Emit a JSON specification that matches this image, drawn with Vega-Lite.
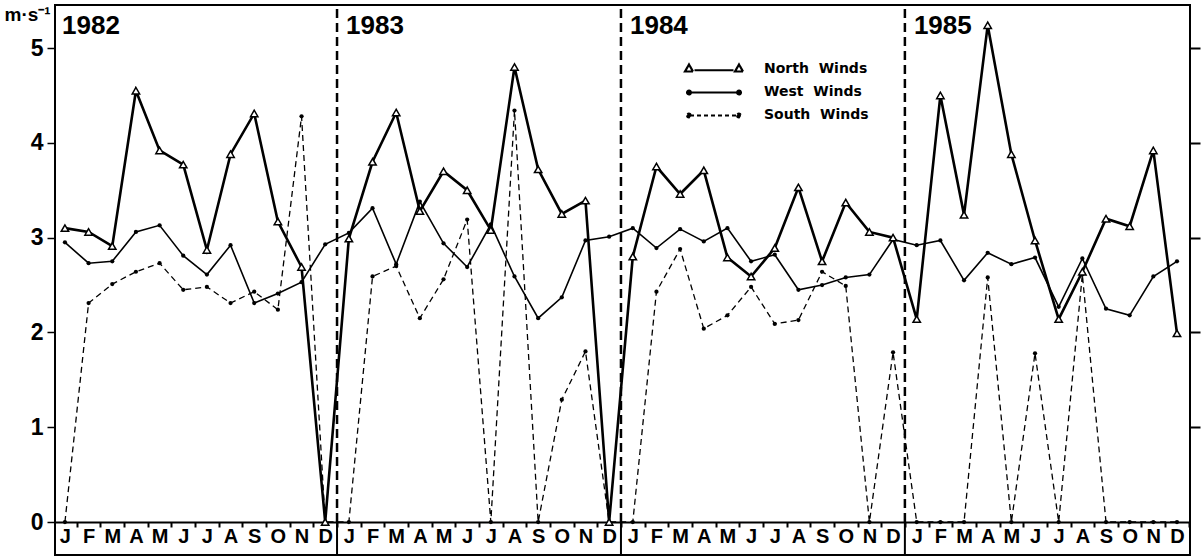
{
  "$schema": "https://vega.github.io/schema/vega-lite/v6.json",
  "width": 1135,
  "height": 550,
  "autosize": {"type": "none"},
  "padding": {"left": 55, "top": 5, "right": 11, "bottom": 4},
  "background": "white",
  "config": {"view": {"stroke": "black", "strokeWidth": 2}, "font": "Liberation Sans"},
  "datasets": {
    "years": [
      {"year": "1982", "b": -0.5},
      {"year": "1983", "b": 11.5},
      {"year": "1984", "b": 23.5},
      {"year": "1985", "b": 35.5}
    ],
    "winds": [
      {"s":"North Winds","i":0,"v":3.10},{"s":"North Winds","i":1,"v":3.06},{"s":"North Winds","i":2,"v":2.91},{"s":"North Winds","i":3,"v":4.55},
      {"s":"North Winds","i":4,"v":3.92},{"s":"North Winds","i":5,"v":3.77},{"s":"North Winds","i":6,"v":2.87},{"s":"North Winds","i":7,"v":3.88},
      {"s":"North Winds","i":8,"v":4.31},{"s":"North Winds","i":9,"v":3.17},{"s":"North Winds","i":10,"v":2.69},{"s":"North Winds","i":11,"v":0},
      {"s":"North Winds","i":12,"v":2.99},{"s":"North Winds","i":13,"v":3.80},{"s":"North Winds","i":14,"v":4.32},{"s":"North Winds","i":15,"v":3.28},
      {"s":"North Winds","i":16,"v":3.70},{"s":"North Winds","i":17,"v":3.50},{"s":"North Winds","i":18,"v":3.08},{"s":"North Winds","i":19,"v":4.80},
      {"s":"North Winds","i":20,"v":3.72},{"s":"North Winds","i":21,"v":3.25},{"s":"North Winds","i":22,"v":3.39},{"s":"North Winds","i":23,"v":0},
      {"s":"North Winds","i":24,"v":2.80},{"s":"North Winds","i":25,"v":3.75},{"s":"North Winds","i":26,"v":3.46},{"s":"North Winds","i":27,"v":3.71},
      {"s":"North Winds","i":28,"v":2.79},{"s":"North Winds","i":29,"v":2.59},{"s":"North Winds","i":30,"v":2.89},{"s":"North Winds","i":31,"v":3.53},
      {"s":"North Winds","i":32,"v":2.75},{"s":"North Winds","i":33,"v":3.37},{"s":"North Winds","i":34,"v":3.06},{"s":"North Winds","i":35,"v":3.00},
      {"s":"North Winds","i":36,"v":2.14},{"s":"North Winds","i":37,"v":4.50},{"s":"North Winds","i":38,"v":3.24},{"s":"North Winds","i":39,"v":5.24},
      {"s":"North Winds","i":40,"v":3.88},{"s":"North Winds","i":41,"v":2.97},{"s":"North Winds","i":42,"v":2.14},{"s":"North Winds","i":43,"v":2.64},
      {"s":"North Winds","i":44,"v":3.20},{"s":"North Winds","i":45,"v":3.12},{"s":"North Winds","i":46,"v":3.92},{"s":"North Winds","i":47,"v":1.99},

      {"s":"West Winds","i":0,"v":2.95},{"s":"West Winds","i":1,"v":2.73},{"s":"West Winds","i":2,"v":2.75},{"s":"West Winds","i":3,"v":3.06},
      {"s":"West Winds","i":4,"v":3.13},{"s":"West Winds","i":5,"v":2.81},{"s":"West Winds","i":6,"v":2.61},{"s":"West Winds","i":7,"v":2.92},
      {"s":"West Winds","i":8,"v":2.31},{"s":"West Winds","i":9,"v":2.41},{"s":"West Winds","i":10,"v":2.53},{"s":"West Winds","i":11,"v":2.93},
      {"s":"West Winds","i":12,"v":3.05},{"s":"West Winds","i":13,"v":3.31},{"s":"West Winds","i":14,"v":2.72},{"s":"West Winds","i":15,"v":3.38},
      {"s":"West Winds","i":16,"v":2.94},{"s":"West Winds","i":17,"v":2.69},{"s":"West Winds","i":18,"v":3.14},{"s":"West Winds","i":19,"v":2.59},
      {"s":"West Winds","i":20,"v":2.15},{"s":"West Winds","i":21,"v":2.37},{"s":"West Winds","i":22,"v":2.97},{"s":"West Winds","i":23,"v":3.01},
      {"s":"West Winds","i":24,"v":3.10},{"s":"West Winds","i":25,"v":2.89},{"s":"West Winds","i":26,"v":3.09},{"s":"West Winds","i":27,"v":2.96},
      {"s":"West Winds","i":28,"v":3.10},{"s":"West Winds","i":29,"v":2.75},{"s":"West Winds","i":30,"v":2.82},{"s":"West Winds","i":31,"v":2.45},
      {"s":"West Winds","i":32,"v":2.50},{"s":"West Winds","i":33,"v":2.58},{"s":"West Winds","i":34,"v":2.61},{"s":"West Winds","i":35,"v":2.98},
      {"s":"West Winds","i":36,"v":2.92},{"s":"West Winds","i":37,"v":2.97},{"s":"West Winds","i":38,"v":2.55},{"s":"West Winds","i":39,"v":2.84},
      {"s":"West Winds","i":40,"v":2.72},{"s":"West Winds","i":41,"v":2.79},{"s":"West Winds","i":42,"v":2.27},{"s":"West Winds","i":43,"v":2.78},
      {"s":"West Winds","i":44,"v":2.25},{"s":"West Winds","i":45,"v":2.18},{"s":"West Winds","i":46,"v":2.59},{"s":"West Winds","i":47,"v":2.75},

      {"s":"South Winds","i":0,"v":0},{"s":"South Winds","i":1,"v":2.31},{"s":"South Winds","i":2,"v":2.51},{"s":"South Winds","i":3,"v":2.64},
      {"s":"South Winds","i":4,"v":2.73},{"s":"South Winds","i":5,"v":2.45},{"s":"South Winds","i":6,"v":2.48},{"s":"South Winds","i":7,"v":2.31},
      {"s":"South Winds","i":8,"v":2.43},{"s":"South Winds","i":9,"v":2.24},{"s":"South Winds","i":10,"v":4.28},{"s":"South Winds","i":11,"v":0},
      {"s":"South Winds","i":12,"v":0},{"s":"South Winds","i":13,"v":2.59},{"s":"South Winds","i":14,"v":2.70},{"s":"South Winds","i":15,"v":2.15},
      {"s":"South Winds","i":16,"v":2.56},{"s":"South Winds","i":17,"v":3.19},{"s":"South Winds","i":18,"v":0},{"s":"South Winds","i":19,"v":4.34},
      {"s":"South Winds","i":20,"v":0},{"s":"South Winds","i":21,"v":1.29},{"s":"South Winds","i":22,"v":1.80},{"s":"South Winds","i":23,"v":0},
      {"s":"South Winds","i":24,"v":0},{"s":"South Winds","i":25,"v":2.43},{"s":"South Winds","i":26,"v":2.88},{"s":"South Winds","i":27,"v":2.04},
      {"s":"South Winds","i":28,"v":2.18},{"s":"South Winds","i":29,"v":2.48},{"s":"South Winds","i":30,"v":2.09},{"s":"South Winds","i":31,"v":2.13},
      {"s":"South Winds","i":32,"v":2.64},{"s":"South Winds","i":33,"v":2.49},{"s":"South Winds","i":34,"v":0},{"s":"South Winds","i":35,"v":1.79},
      {"s":"South Winds","i":36,"v":0},{"s":"South Winds","i":37,"v":0},{"s":"South Winds","i":38,"v":0},{"s":"South Winds","i":39,"v":2.58},
      {"s":"South Winds","i":40,"v":0},{"s":"South Winds","i":41,"v":1.78},{"s":"South Winds","i":42,"v":0},{"s":"South Winds","i":43,"v":2.61},
      {"s":"South Winds","i":44,"v":0},{"s":"South Winds","i":45,"v":0},{"s":"South Winds","i":46,"v":0},{"s":"South Winds","i":47,"v":0}
    ]
  },
  "resolve": {"axis": {"y": "independent", "x": "independent"}},
  "layer": [
    {
      "data": {"name": "years"},
      "transform": [{"filter": "datum.year != '1982'"}],
      "mark": {"type": "rule", "color": "black", "strokeWidth": 2.5, "strokeDash": [9, 5]},
      "encoding": {
        "x": {"field": "b", "type": "quantitative", "scale": {"domain": [-0.42, 47.55], "nice": false, "zero": false}, "axis": null},
        "y": {"datum": 0, "type": "quantitative", "scale": {"domain": [-0.348, 5.454], "nice": false, "zero": false}, "axis": null},
        "y2": {"datum": 5.45}
      }
    },
    {
      "data": {"name": "years"},
      "transform": [{"filter": "datum.year != '1982'"}],
      "mark": {"type": "rule", "color": "black", "strokeWidth": 2},
      "encoding": {
        "x": {"field": "b", "type": "quantitative", "scale": {"domain": [-0.42, 47.55], "nice": false, "zero": false}, "axis": null},
        "y": {"datum": 0, "type": "quantitative", "scale": {"domain": [-0.348, 5.454], "nice": false, "zero": false}, "axis": null},
        "y2": {"datum": -0.348}
      }
    },
    {
      "data": {"name": "winds"},
      "transform": [{"filter": "datum.s == 'South Winds'"}],
      "mark": {"type": "line", "color": "black", "strokeWidth": 1.3, "strokeDash": [6, 4]},
      "encoding": {
        "x": {
          "field": "i", "type": "quantitative",
          "scale": {"domain": [-0.42, 47.55], "nice": false, "zero": false},
          "axis": {
            "values": [0,1,2,3,4,5,6,7,8,9,10,11,12,13,14,15,16,17,18,19,20,21,22,23,24,25,26,27,28,29,30,31,32,33,34,35,36,37,38,39,40,41,42,43,44,45,46,47],
            "labelExpr": "['J','F','M','A','M','J','J','A','S','O','N','D'][datum.value % 12]",
            "title": null, "grid": false, "offset": -33, "zindex": 0,
            "domain": true, "domainColor": "black", "domainWidth": 2,
            "ticks": true, "tickColor": "black", "tickWidth": 2, "tickSize": 5, "tickOffset": 11.83, "labelOffset": -11.83,
            "labelFont": "Liberation Sans", "labelFontWeight": "bold", "labelFontSize": 20, "labelColor": "black",
            "labelAngle": 0, "labelBaseline": "middle", "labelPadding": 9, "labelFlush": false, "labelOverlap": false
          }
        },
        "y": {
          "field": "v", "type": "quantitative",
          "scale": {"domain": [-0.348, 5.454], "nice": false, "zero": false},
          "axis": {
            "orient": "left", "values": [0,1,2,3,4,5], "format": "d", "grid": false, "domain": false,
            "tickColor": "black", "tickWidth": 1.5, "tickSize": 8,
            "labelFont": "Liberation Sans", "labelFontWeight": "bold", "labelFontSize": 23, "labelColor": "black", "labelPadding": 4,
            "title": "m·s⁻¹", "titleAngle": 0, "titleX": -51, "titleY": 9, "titleAlign": "left", "titleBaseline": "middle",
            "titleFont": "Liberation Sans", "titleFontWeight": "bold", "titleFontSize": 19, "titleColor": "black"
          }
        }
      }
    },
    {
      "data": {"name": "winds"},
      "transform": [{"filter": "datum.s == 'West Winds'"}],
      "mark": {"type": "line", "color": "black", "strokeWidth": 1.6},
      "encoding": {
        "x": {"field": "i", "type": "quantitative", "scale": {"domain": [-0.42, 47.55], "nice": false, "zero": false}, "axis": null},
        "y": {"field": "v", "type": "quantitative", "scale": {"domain": [-0.348, 5.454], "nice": false, "zero": false}, "axis": null}
      }
    },
    {
      "data": {"name": "winds"},
      "transform": [{"filter": "datum.s == 'North Winds'"}],
      "mark": {"type": "line", "color": "black", "strokeWidth": 2.6},
      "encoding": {
        "x": {"field": "i", "type": "quantitative", "scale": {"domain": [-0.42, 47.55], "nice": false, "zero": false}, "axis": null},
        "y": {"field": "v", "type": "quantitative", "scale": {"domain": [-0.348, 5.454], "nice": false, "zero": false}, "axis": null}
      }
    },
    {
      "data": {"name": "winds"},
      "transform": [{"filter": "datum.s != 'North Winds'"}],
      "mark": {"type": "circle", "color": "black", "size": 18, "opacity": 1},
      "encoding": {
        "x": {"field": "i", "type": "quantitative", "scale": {"domain": [-0.42, 47.55], "nice": false, "zero": false}, "axis": null},
        "y": {
          "field": "v", "type": "quantitative",
          "scale": {"domain": [-0.348, 5.454], "nice": false, "zero": false},
          "axis": {"orient": "right", "values": [1,2,3,4,5], "labels": false, "domain": false, "grid": false, "title": null, "tickColor": "black", "tickWidth": 2, "tickSize": 10}
        }
      }
    },
    {
      "data": {"name": "winds"},
      "transform": [{"filter": "datum.s == 'North Winds'"}],
      "mark": {"type": "point", "shape": "triangle-up", "filled": true, "fill": "white", "stroke": "black", "strokeWidth": 1.5, "size": 55, "opacity": 1},
      "encoding": {
        "x": {"field": "i", "type": "quantitative", "scale": {"domain": [-0.42, 47.55], "nice": false, "zero": false}, "axis": null},
        "y": {"field": "v", "type": "quantitative", "scale": {"domain": [-0.348, 5.454], "nice": false, "zero": false}, "axis": null}
      }
    },
    {
      "data": {"name": "winds"},
      "transform": [{"filter": "false"}],
      "mark": {"type": "point", "filled": true, "stroke": "black", "size": 100, "opacity": 1},
      "encoding": {
        "x": {"field": "i", "type": "quantitative", "scale": {"domain": [-0.42, 47.55], "nice": false, "zero": false}, "axis": null},
        "y": {"field": "v", "type": "quantitative", "scale": {"domain": [-0.348, 5.454], "nice": false, "zero": false}, "axis": null},
        "shape": {
          "field": "s", "type": "nominal",
          "scale": {
            "domain": ["North Winds", "West Winds", "South Winds"],
            "range": [
              "M-13.2,0.5L-11.6,0.5L-12.4,-0.9ZM-3.2,0.5L-1.6,0.5L-2.4,-0.9ZM-11.3,0.25L-3.5,0.25",
              "M-12.8,0.1A0.4,0.4 0 1,0 -12,0.1A0.4,0.4 0 1,0 -12.8,0.1ZM-2.8,0.1A0.4,0.4 0 1,0 -2,0.1A0.4,0.4 0 1,0 -2.8,0.1ZM-12.2,0.1L-2.6,0.1",
              "M-12.8,0.1A0.4,0.4 0 1,0 -12,0.1A0.4,0.4 0 1,0 -12.8,0.1ZM-2.8,0.1A0.4,0.4 0 1,0 -2,0.1A0.4,0.4 0 1,0 -2.8,0.1ZM-12.2,0.1L-2.6,0.1"
            ]
          },
          "legend": {
            "title": null, "orient": "none", "legendX": 689, "legendY": 57, "padding": 0,
            "symbolSize": 100, "labelOffset": 6, "rowPadding": 9,
            "labelFont": "DejaVu Sans", "labelFontWeight": "bold", "labelFontSize": 14, "labelColor": "black",
            "labelExpr": "replace(datum.label, ' ', '\u00a0\u00a0')"
          }
        },
        "fill": {"field": "s", "type": "nominal", "scale": {"domain": ["North Winds", "West Winds", "South Winds"], "range": ["white", "black", "black"]}},
        "strokeDash": {"field": "s", "type": "nominal", "scale": {"domain": ["North Winds", "West Winds", "South Winds"], "range": [[1, 0], [1, 0], [4, 3]]}},
        "strokeWidth": {"field": "s", "type": "nominal", "scale": {"domain": ["North Winds", "West Winds", "South Winds"], "range": [2.2, 1.9, 1.3]}}
      }
    },
    {
      "data": {"name": "years"},
      "mark": {"type": "text", "align": "left", "baseline": "middle", "dx": 9, "font": "Liberation Sans", "fontWeight": "bold", "fontSize": 26, "color": "black"},
      "encoding": {
        "x": {"field": "b", "type": "quantitative", "scale": {"domain": [-0.42, 47.55], "nice": false, "zero": false}, "axis": null},
        "y": {"datum": 5.23, "type": "quantitative", "scale": {"domain": [-0.348, 5.454], "nice": false, "zero": false}, "axis": null},
        "text": {"field": "year"}
      }
    }
  ]
}
